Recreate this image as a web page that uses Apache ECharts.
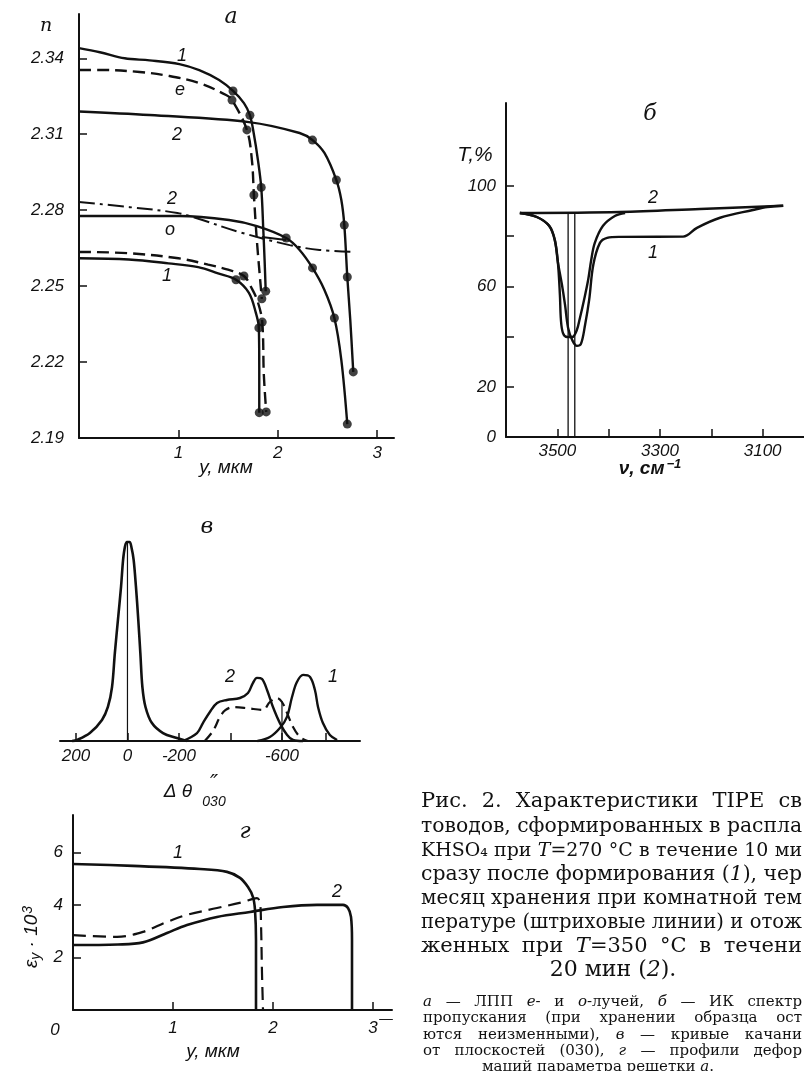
<!DOCTYPE html>
<html lang="ru">
<head>
<meta charset="UTF-8">
<title>Рис. 2</title>
<style>html,body{margin:0;padding:0;background:#fff}</style>
</head>
<body>
<div id="main" style="width:804px;height:1071px"></div>
<script src="https://cdn.jsdelivr.net/npm/echarts@6/dist/echarts.min.js"></script>
<script>
// ---- panel а: n(y), y in мкм ----
var aE1 = [[0,2.344],[0.21,2.3424],[0.46,2.340],[0.71,2.3392],[1.01,2.3377],[1.21,2.3353],[1.41,2.3314],[1.55,2.3271],[1.66,2.3223],[1.72,2.3175],[1.76,2.310],[1.80,2.300],[1.834,2.289],[1.855,2.272],[1.868,2.260],[1.879,2.248]];
var aE1d = [[0,2.3354],[0.21,2.3354],[0.61,2.3346],[0.91,2.333],[1.21,2.3302],[1.48,2.3255],[1.54,2.3235],[1.69,2.3117],[1.74,2.2998],[1.76,2.286],[1.79,2.268],[1.84,2.245]];
var aE2 = [[0,2.319],[0.71,2.3176],[1.71,2.3148],[2.22,2.3105],[2.35,2.3077],[2.47,2.3026],[2.59,2.2919],[2.64,2.284],[2.67,2.2741],[2.70,2.2536],[2.73,2.2366],[2.76,2.2161]];
var aO2 = [[0,2.2832],[0.51,2.2812],[0.99,2.2789],[1.21,2.2765],[1.61,2.2714],[2.12,2.2662],[2.42,2.2643],[2.77,2.2635]];
var aO = [[0,2.2777],[1.01,2.2777],[1.51,2.2761],[1.79,2.2737],[2.085,2.269],[2.22,2.2643],[2.35,2.2572],[2.47,2.2485],[2.57,2.2374],[2.64,2.2208],[2.70,2.1955]];
var aOLink = [[1.84,2.2694],[2.085,2.2682]];
var aO1 = [[0,2.261],[0.5,2.2605],[0.9,2.259],[1.2,2.2575],[1.4,2.255],[1.58,2.2525],[1.71,2.2473],[1.78,2.2394],[1.81,2.2335],[1.814,2.217],[1.814,2.200]];
var aO1d = [[0,2.2635],[0.5,2.263],[1.0,2.261],[1.3,2.2585],[1.5,2.2565],[1.66,2.254],[1.74,2.249],[1.80,2.2437],[1.844,2.2358],[1.86,2.215],[1.884,2.2003]];
var aDots = [[1.55,2.3271],[1.72,2.3175],[1.834,2.289],[1.879,2.248],
             [1.54,2.3235],[1.69,2.3117],[1.76,2.286],[1.84,2.245],
             [2.35,2.3077],[2.59,2.2919],[2.67,2.2741],[2.70,2.2536],[2.76,2.2161],
             [2.085,2.269],[2.35,2.2572],[2.57,2.2374],[2.70,2.1955],
             [1.58,2.2525],[1.81,2.2335],[1.814,2.200],
             [1.66,2.254],[1.844,2.2358],[1.884,2.2003]];
var aXTicks = [1, 2, 3];
var aYTicks = [2.19, 2.22, 2.25, 2.28, 2.31, 2.34];

// ---- panel б: T,% vs ν, см-1 ----
var bTop = [[3573,89.2],[3378,89.6],[3222,90.8],[3060,92.1]];
var b2 = [[3573,89.2],[3540,87.6],[3516,84.1],[3505,78.5],[3499,69.7],[3495,56.6],[3493,46.6],[3489,41.4],[3481,39.8],[3471,39.8],[3462,42.6],[3456,47.4],[3448,54.6],[3440,62.5],[3434,70.5],[3427,77.3],[3411,84.1],[3388,88.0],[3368,89.2]];
var b1 = [[3573,89.2],[3540,87.6],[3516,84.1],[3505,78.5],[3499,69.7],[3491,60.6],[3485,52.6],[3479,43.4],[3471,38.6],[3462,36.3],[3454,37.1],[3446,44.6],[3438,54.6],[3430,68.5],[3417,77.3],[3403,79.3],[3378,79.7],[3255,79.8],[3228,83.3],[3183,87.3],[3119,90.4],[3091,91.6],[3060,92.1]];
var bPeakNu = [3479, 3466];
var bPeakTop = 89;
var bXTicks = [3500, 3400, 3300, 3200, 3100];
var bXLabels = [3500, 3300, 3100];
var bYTicks = [20, 40, 60, 80, 100];
var bYLabels = [0, 20, 60, 100];

// ---- panel в: rocking curves, Δθ'' ----
var cRef = [[215,0],[196,0.5],[146,4],[99,10.6],[76,17.1],[60,27.1],[49,44.2],[37,60.8],[25,77.4],[17,91],[10,97.5],[2,100],[-8,100],[-16,97],[-24,91],[-33,77.4],[-42,60.8],[-50,44.2],[-58,27.1],[-70,17.1],[-95,9],[-138,4],[-192,1.5],[-230,0]];
var c2 = [[-215,0],[-270,4],[-293,9],[-320,14.6],[-348,19.1],[-386,20.6],[-437,21.6],[-468,24.1],[-487,29.1],[-503,31.7],[-522,31.2],[-542,25.6],[-565,17.1],[-592,9],[-620,3],[-643,0.5],[-682,0]];
var c1 = [[-505,0],[-553,2],[-592,6.5],[-619,12],[-639,22.1],[-658,29.6],[-682,33.2],[-709,32.2],[-728,25.6],[-740,17.1],[-759,9],[-786,3],[-814,0.5]];
var cDash = [[-300,0],[-332,5],[-359,12],[-380,15.5],[-410,17],[-464,16.5],[-526,15.6],[-553,19.6],[-581,21.6],[-600,19.6],[-620,14],[-643,7],[-670,2],[-700,0]];
var cMarks = [[0,100],[-600,20]];
var cXTicks = [200, 0, -200, -400, -600, -770];
var cXLabels = [200, 0, -200, -600];

// ---- panel г: ε_y·10^3 vs y, мкм ----
var d1 = [[0,5.57],[0.6,5.5],[1.27,5.38],[1.54,5.27],[1.67,5.04],[1.75,4.69],[1.80,4.31],[1.82,3.82],[1.83,2.67],[1.83,0]];
var d2 = [[0,2.48],[0.45,2.5],[0.7,2.58],[0.94,2.94],[1.14,3.24],[1.44,3.55],[1.77,3.74],[2.1,3.93],[2.44,4.01],[2.70,4.01],[2.75,3.89],[2.78,3.55],[2.79,2.67],[2.79,0]];
var dDash = [[0,2.86],[0.44,2.79],[0.7,2.98],[0.94,3.36],[1.14,3.63],[1.44,3.89],[1.70,4.12],[1.84,4.27],[1.87,4.08],[1.88,3.32],[1.89,1.41],[1.90,0]];
var dXTicks = [1, 2, 3];
var dYTicks = [2, 4, 6];

// ---- caption ----
var capLines = [
    ['Рис.', '2.', 'Характеристики', 'TIPE', 'св'],
    ['товодов,', 'сформированных', 'в', 'распла'],
    ['KHSO₄', 'при', '{i|T}{r|=270}', '°C', 'в', 'течение', '10', 'ми'],
    ['сразу', 'после', 'формирования', '{r|(}{i|1}{r|),}', 'чер'],
    ['месяц', 'хранения', 'при', 'комнатной', 'тем'],
    ['пературе', '(штриховые', 'линии)', 'и', 'отож'],
    ['женных', 'при', '{i|T}{r|=350}', '°C', 'в', 'течени']
];
var capLast = '{r|20 мин (}{i|2}{r|).}';
var noteLines = [
    ['{i|а}', '—', 'ЛПП', '{i|е}{r|-}', 'и', '{i|о}{r|-лучей,}', '{i|б}', '—', 'ИК', 'спектр'],
    ['пропускания', '(при', 'хранении', 'образца', 'ост'],
    ['ются', 'неизменными),', '{i|в}', '—', 'кривые', 'качани'],
    ['от', 'плоскостей', '(030),', '{i|г}', '—', 'профили', 'дефор']
];
var noteLast = '{r|маций параметра решетки }{i|a}{r|.}';

var ink = '#111';
var tickFont = {color: ink, fontFamily: 'Liberation Sans', fontStyle: 'italic', fontSize: 17};

function xAx(grid, min, max, ticks, labels, margin, extra) {
    var ax = {
        gridIndex: grid, type: 'value', min: min, max: max,
        axisLine: {onZero: false, lineStyle: {color: ink, width: 2}},
        axisTick: {inside: true, length: 8, customValues: ticks, lineStyle: {color: ink, width: 1.5}},
        axisLabel: Object.assign({customValues: labels, margin: margin, formatter: function (v) { return String(v); }}, tickFont),
        splitLine: {show: false}
    };
    return Object.assign(ax, extra || {});
}

function line(grid, data, type, width) {
    return {
        type: 'line', xAxisIndex: grid, yAxisIndex: grid, data: data,
        symbol: 'none', smooth: 0.35, clip: false, silent: true,
        lineStyle: {color: ink, width: width || 2.4, type: type || 'solid'}
    };
}

function txt(x, y, text, font, extra) {
    var st = Object.assign({
        text: text, fill: ink, font: font,
        align: 'center', verticalAlign: 'middle',
        textAlign: 'center', textVerticalAlign: 'middle'
    }, extra || {});
    return {type: 'text', x: x, y: y, silent: true, style: st};
}

function richSet(size) {
    return {
        r: {fontSize: size, fontFamily: 'DejaVu Serif'},
        i: {fontSize: size, fontFamily: 'DejaVu Serif', fontStyle: 'italic'}
    };
}

// spread the words of one caption line from x0 to x1 (justified text)
var mctx = document.createElement('canvas').getContext('2d');
function justify(words, x0, x1, y, size, minGapK) {
    var plain = words.map(function (w) { return w.indexOf('{') < 0 ? w : w.replace(/\{[ri]\|([^}]*)\}/g, '$1'); });
    var minGap = size * (minGapK || 0.3);
    mctx.font = size + 'px "DejaVu Serif"';
    var widths = plain.map(function (w) { return mctx.measureText(w).width; });
    var total = widths.reduce(function (a, b) { return a + b; }, 0);
    var avail = x1 - x0;
    if (total + minGap * (words.length - 1) > avail) {
        size = size * (avail - minGap * (words.length - 1)) / total;
        mctx.font = size + 'px "DejaVu Serif"';
        widths = plain.map(function (w) { return mctx.measureText(w).width; });
        total = widths.reduce(function (a, b) { return a + b; }, 0);
    }
    var gap = (avail - total) / (words.length - 1);
    var out = [];
    var x = x0;
    var rich = richSet(size);
    words.forEach(function (w, i) {
        var t = w.indexOf('{') < 0 ? '{r|' + w + '}' : w;
        out.push(txt(x, y, t, null, {rich: rich, align: 'left', textAlign: 'left'}));
        x += widths[i] + gap;
    });
    return out;
}

var lab = 'italic 18px "Liberation Sans"';
var pan = 'italic 22px "DejaVu Serif"';

var series = [
    line(0, aE1), line(0, aE1d, [12, 6]), line(0, aE2), line(0, aO2, [16, 5, 3, 5], 2),
    line(0, aO), line(0, aOLink, 'solid', 2), line(0, aO1), line(0, aO1d, [12, 6]),
    {type: 'scatter', xAxisIndex: 0, yAxisIndex: 0, data: aDots, symbolSize: 9,
     itemStyle: {color: ink}, silent: true},
    line(1, bTop), line(1, b2), line(1, b1),
    line(2, cRef, 'solid', 2.6), line(2, c2), line(2, c1), line(2, cDash, [10, 6], 2.2),
    line(3, d1, 'solid', 2.6), line(3, d2, 'solid', 2.6), line(3, dDash, [13, 7], 2.2)
];
bPeakNu.forEach(function (nu) {
    series.push(line(1, [[nu, 0], [nu, bPeakTop]], 'solid', 1.3));
});
cMarks.forEach(function (m) {
    series.push(line(2, [[m[0], 0], [m[0], m[1]]], 'solid', 1.2));
});

var graphics = [
    // panel а
    txt(46, 26, 'n', 'italic 19px "DejaVu Serif"'),
    txt(231, 17, 'а', pan),
    txt(182, 56, '1', lab), txt(180, 90, 'е', lab), txt(177, 135, '2', lab),
    txt(172, 199, '2', lab), txt(170, 230, 'о', lab), txt(167, 276, '1', lab),
    txt(226, 468, 'y, мкм', 'italic 19px "Liberation Sans"'),
    // panel б
    txt(650, 114, 'б', pan),
    txt(475, 155, 'T,%', 'italic 21px "Liberation Sans"'),
    txt(653, 198, '2', lab), txt(653, 253, '1', lab),
    txt(650, 468, '{a|ν, см}{s|−1}', null, {rich: {
        a: {fontSize: 19, fontFamily: 'Liberation Sans', fontStyle: 'italic', fontWeight: 'bold', verticalAlign: 'bottom'},
        s: {fontSize: 13, fontFamily: 'Liberation Sans', fontStyle: 'italic', fontWeight: 'bold', verticalAlign: 'top', padding: [0, 0, 8, 2]}
    }}),
    // panel в
    txt(207, 527, 'в', pan),
    txt(230, 677, '2', lab), txt(333, 677, '1', lab),
    txt(178, 792, 'Δ θ', 'italic 19px "Liberation Sans"'),
    txt(214, 784, '″', 'italic 22px "DejaVu Sans"'),
    txt(214, 802, '030', 'italic 14px "Liberation Sans"'),
    // panel г
    txt(245, 832, 'г', pan),
    txt(178, 853, '1', lab), txt(337, 892, '2', lab),
    txt(55, 1030, '0', 'italic 17px "Liberation Sans"'),
    txt(213, 1052, 'y, мкм', 'italic 19px "Liberation Sans"'),
    {type: 'text', x: 32, y: 937, rotation: Math.PI / 2, silent: true, style: {
        text: '{a|ε}{s|y}{a| · 10}{p|3}', fill: ink,
        align: 'center', verticalAlign: 'middle', textAlign: 'center', textVerticalAlign: 'middle',
        rich: {
            a: {fontSize: 19, fontFamily: 'Liberation Sans', fontStyle: 'italic', verticalAlign: 'middle'},
            s: {fontSize: 14, fontFamily: 'Liberation Sans', fontStyle: 'italic', verticalAlign: 'bottom', padding: [8, 0, 0, 0]},
            p: {fontSize: 14, fontFamily: 'Liberation Sans', fontStyle: 'italic', verticalAlign: 'top', padding: [0, 0, 8, 1]}
        }}},
    txt(386, 1019, '—', '15px "DejaVu Serif"')
];

// caption lines, justified to the right edge as in the scan
var capY = [802, 827, 851, 875, 899, 923, 947];
capLines.forEach(function (w, i) {
    graphics = graphics.concat(justify(w, 421, 802, capY[i], 21));
});
graphics.push(txt(613, 970, capLast, null, {rich: richSet(22)}));
var noteY = [1002, 1018, 1035, 1051];
noteLines.forEach(function (w, i) {
    graphics = graphics.concat(justify(w, 423, 802, noteY[i], 15, 0.25));
});
graphics.push(txt(598, 1067, noteLast, null, {rich: richSet(15)}));

var option = {
    backgroundColor: '#fff',
    animation: false,
    grid: [
        {left: 79, top: 14, width: 315, height: 424, outerBoundsMode: 'none'},
        {left: 506, top: 103, width: 308, height: 334, outerBoundsMode: 'none'},
        {left: 60, top: 532, width: 300, height: 209, outerBoundsMode: 'none'},
        {left: 73, top: 815, width: 319, height: 195, outerBoundsMode: 'none'}
    ],
    xAxis: [
        xAx(0, 0, 3.17, aXTicks, aXTicks, 7),
        xAx(1, 3000, 3600, bXTicks, bXLabels, 6, {inverse: true}),
        xAx(2, -903, 262, cXTicks, cXLabels, 7, {inverse: true}),
        xAx(3, 0, 3.19, dXTicks, dXTicks, 10)
    ],
    yAxis: [
        xAx(0, 2.19, 2.3575, aYTicks, aYTicks, 15, {axisLabel: Object.assign({customValues: aYTicks, margin: 15,
            formatter: function (v) { return v.toFixed(2); }}, tickFont)}),
        xAx(1, 0, 133, bYTicks, bYLabels, 10),
        {gridIndex: 2, type: 'value', min: 0, max: 105, show: false},
        xAx(3, 0, 7.44, dYTicks, dYTicks, 10)
    ],
    series: series,
    graphic: graphics
};

var myChart = echarts.init(document.getElementById('main'));
myChart.setOption(option);
</script>
</body>
</html>
